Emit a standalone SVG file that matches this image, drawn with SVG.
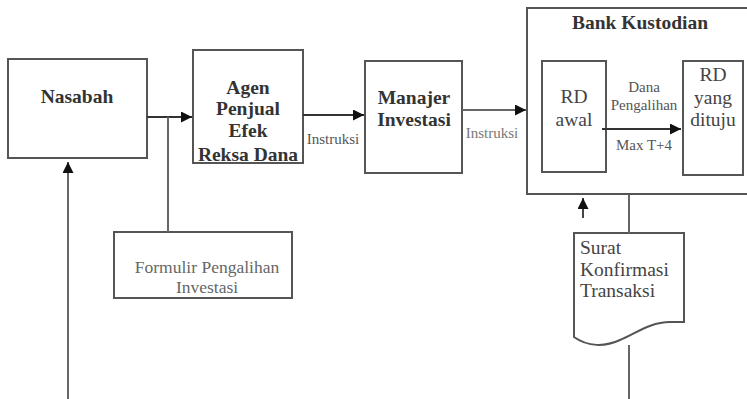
<svg xmlns="http://www.w3.org/2000/svg" width="747" height="399" viewBox="0 0 747 399">
<style>
.box{fill:#fff;stroke:#555;stroke-width:2}
.ln{fill:none;stroke:#666;stroke-width:2}
.b{font-family:"Liberation Serif","Times New Roman",serif;font-weight:bold;font-size:19.5px;fill:#333;text-anchor:middle}
.r{font-family:"Liberation Serif","Times New Roman",serif;font-size:19.5px;fill:#444;text-anchor:middle}
.l{font-family:"Liberation Serif","Times New Roman",serif;font-size:19.5px;fill:#444;text-anchor:start}
.s{font-family:"Liberation Serif","Times New Roman",serif;font-size:15px;fill:#555;text-anchor:middle}
.f{font-family:"Liberation Serif","Times New Roman",serif;font-size:17.5px;fill:#666;text-anchor:middle}
</style>
<defs>
<marker id="ah" viewBox="0 0 10 10" refX="10" refY="5" markerWidth="5.5" markerHeight="5.5" orient="auto" markerUnits="strokeWidth">
<path d="M0,0 L10,5 L0,10 z" fill="#111"/>
</marker>
</defs>
<g id="bank">
<rect class="box" x="527" y="8" width="230" height="186"/>
<text class="b" x="640" y="29">Bank Kustodian</text>
</g>
<g id="nasabah">
<rect class="box" x="8" y="59" width="139" height="99"/>
<text class="b" x="77" y="103">Nasabah</text>
</g>
<g id="agen">
<rect class="box" x="193" y="50" width="110" height="113"/>
<text class="b" x="248" y="94">Agen</text>
<text class="b" x="248" y="115">Penjual</text>
<text class="b" x="248" y="137">Efek</text>
<text class="b" x="248" y="161">Reksa Dana</text>
</g>
<g id="manajer">
<rect class="box" x="365" y="61" width="97" height="112"/>
<text class="b" x="414" y="104">Manajer</text>
<text class="b" x="414" y="126">Investasi</text>
</g>
<g id="formulir">
<rect class="box" x="114" y="232" width="178" height="66"/>
<text class="f" x="207" y="273">Formulir Pengalihan</text>
<text class="f" x="207" y="293">Investasi</text>
</g>
<g id="rdawal">
<rect class="box" x="542" y="61" width="64" height="111"/>
<text class="r" x="574" y="103">RD</text>
<text class="r" x="574" y="126">awal</text>
</g>
<g id="rdtuju">
<rect class="box" x="683" y="61" width="60" height="114"/>
<text class="r" x="713" y="81">RD</text>
<text class="r" x="713" y="104">yang</text>
<text class="r" x="713" y="126">dituju</text>
</g>
<g id="surat">
<path class="box" d="M574,233 L684,233 L684,322 L670,322 C650,322 635,334 620,340 C605,347 588,347 574,337 Z"/>
<text class="l" x="580" y="254">Surat</text>
<text class="l" x="580" y="276">Konfirmasi</text>
<text class="l" x="580" y="297">Transaksi</text>
</g>
<g id="connectors">
<line class="ln" x1="147" y1="117" x2="192" y2="117" style="stroke:#333" marker-end="url(#ah)"/>
<line class="ln" x1="168" y1="117" x2="168" y2="232"/>
<line class="ln" x1="303" y1="115" x2="364" y2="115" style="stroke:#333" marker-end="url(#ah)"/>
<text class="s" x="333" y="144">Instruksi</text>
<line class="ln" x1="462" y1="110" x2="526" y2="110" marker-end="url(#ah)"/>
<text class="s" x="492" y="138" style="fill:#777">Instruksi</text>
<line class="ln" x1="602" y1="129" x2="681" y2="129" style="stroke:#333" marker-end="url(#ah)"/>
<text class="s" x="644" y="92">Dana</text>
<text class="s" x="644" y="110">Pengalihan</text>
<text class="s" x="644" y="150">Max T+4</text>
<line class="ln" x1="583" y1="218" x2="583" y2="198" style="stroke:#444" marker-end="url(#ah)"/>
<line class="ln" x1="629" y1="195" x2="629" y2="233"/>
<line class="ln" x1="629" y1="345" x2="629" y2="399"/>
<line class="ln" x1="68" y1="399" x2="68" y2="162" marker-end="url(#ah)"/>
</g>
</svg>
